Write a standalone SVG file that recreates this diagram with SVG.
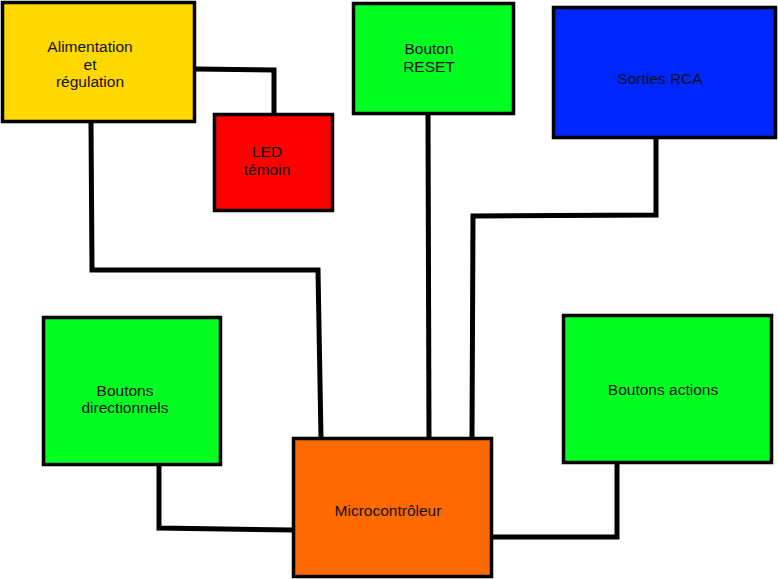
<svg xmlns="http://www.w3.org/2000/svg" width="778" height="579" viewBox="0 0 778 579">
<style>
.box{stroke:#000;stroke-width:3.5}
.lbl{font-family:"Liberation Sans",Arial,sans-serif;font-size:15.5px;fill:#111;text-anchor:middle}
.wire{fill:none;stroke:#000;stroke-width:5;stroke-linejoin:miter}
</style>
<rect width="778" height="579" fill="#fff"/>
<g id="connectors">
<polyline class="wire" points="195,69 274,70 274,114"/>
<polyline class="wire" points="91,122 92,270 318,270 321,438"/>
<polyline class="wire" points="428,114 429,438"/>
<polyline class="wire" points="656,138 656,215 473,216 472,438"/>
<polyline class="wire" points="159,465 159,528 293,530"/>
<polyline class="wire" points="617,463 617,537 492,537"/>
</g>
<g id="alimentation">
<rect class="box" x="2.5" y="2.5" width="192" height="119" fill="#ffd800"/>
<text class="lbl" x="90" y="52">Alimentation</text>
<text class="lbl" x="90" y="70">et</text>
<text class="lbl" x="90" y="87">régulation</text>
</g>
<g id="led">
<rect class="box" x="214.5" y="114.5" width="118" height="96" fill="#ff0000"/>
<text class="lbl" x="267" y="157">LED</text>
<text class="lbl" x="267" y="175">témoin</text>
</g>
<g id="reset">
<rect class="box" x="353.5" y="3.5" width="160" height="110" fill="#00ff21"/>
<text class="lbl" x="429" y="54">Bouton</text>
<text class="lbl" x="429" y="72">RESET</text>
</g>
<g id="rca">
<rect class="box" x="553.5" y="7.5" width="222" height="130" fill="#0026ff"/>
<text class="lbl" x="660" y="84">Sorties RCA</text>
</g>
<g id="directionnels">
<rect class="box" x="43.5" y="317.5" width="177" height="147" fill="#00ff21"/>
<text class="lbl" x="125" y="396">Boutons</text>
<text class="lbl" x="125" y="413">directionnels</text>
</g>
<g id="actions">
<rect class="box" x="563.5" y="315.5" width="208" height="147" fill="#00ff21"/>
<text class="lbl" x="663" y="395">Boutons actions</text>
</g>
<g id="micro">
<rect class="box" x="293.5" y="438.5" width="198" height="138" fill="#ff6a00"/>
<text class="lbl" x="388" y="516">Microcontrôleur</text>
</g>
</svg>
